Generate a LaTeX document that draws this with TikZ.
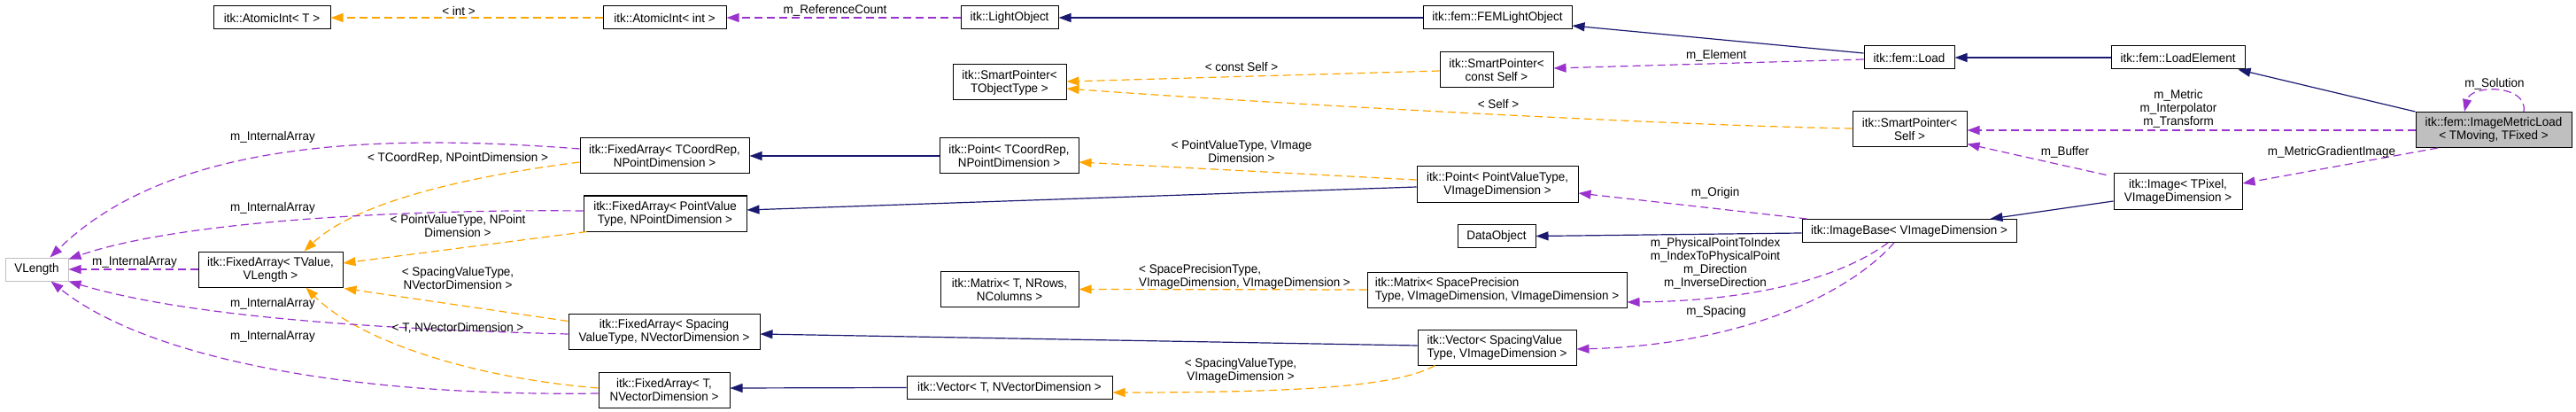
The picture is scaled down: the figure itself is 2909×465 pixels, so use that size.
\documentclass[tikz,border=0pt]{standalone}
\usepackage{fontspec}
\setmainfont[FakeStretch=0.96]{Liberation Sans}
\usetikzlibrary{arrows.meta,calc}
\definecolor{inhblue}{HTML}{191970}
\definecolor{usepurple}{HTML}{9A32CD}
\definecolor{tmplorange}{HTML}{FFA500}
\definecolor{boxgray}{HTML}{BFBFBF}
\begin{document}
\begin{tikzpicture}[x=1pt,y=-1pt,
  font=\fontsize{14}{15}\selectfont,
  box/.style={draw=black, line width=1pt, fill=white, inner sep=0pt, align=center},
  graybox/.style={draw=boxgray, line width=1pt, fill=white, inner sep=0pt, align=center},
  hibox/.style={draw=black, line width=1pt, fill=boxgray, inner sep=0pt, align=center},
  tip/.style={-{Triangle[length=14pt,width=10pt]}},
  inh/.style={draw=inhblue, line width=1.2pt, tip},
  usedge/.style={draw=usepurple, line width=1.2pt, dash pattern=on 9pt off 5pt, tip},
  tpl/.style={draw=tmplorange, line width=1.2pt, dash pattern=on 9pt off 5pt, tip},
  lbl/.style={inner sep=0pt, align=center}]
\useasboundingbox (0,0) rectangle (2909,465);

% ---------- nodes ----------
\node[box, minimum width=132pt, minimum height=26pt] (atT) at (307,20) {itk::AtomicInt< T >};
\node[box, minimum width=139pt, minimum height=26pt] (atI) at (750.5,20) {itk::AtomicInt< int >};
\node[box, minimum width=110pt, minimum height=26pt] (lo) at (1140,20) {itk::LightObject};
\node[box, minimum width=168pt, minimum height=26pt] (feml) at (1691,20) {itk::fem::FEMLightObject};
\node[box, minimum width=102pt, minimum height=26pt] (load) at (2156,65) {itk::fem::Load};
\node[box, minimum width=151pt, minimum height=26pt] (le) at (2459.5,65) {itk::fem::LoadElement};
\node[box, minimum width=128pt, minimum height=40pt] (spT) at (1140,93) {itk::SmartPointer<\\TObjectType >};
\node[box, minimum width=128pt, minimum height=40pt] (spC) at (1690,79) {itk::SmartPointer<\\const Self >};
\node[box, minimum width=129pt, minimum height=40pt] (spS) at (2156.5,146) {itk::SmartPointer<\\Self >};
\node[hibox, minimum width=176pt, minimum height=40pt] (iml) at (2816,146.5) {itk::fem::ImageMetricLoad\\< TMoving, TFixed >};
\node[box, minimum width=191pt, minimum height=40pt] (faTC) at (750.5,176) {itk::FixedArray< TCoordRep,\\NPointDimension >};
\node[box, minimum width=157pt, minimum height=40pt] (ptTC) at (1139.5,176) {itk::Point< TCoordRep,\\NPointDimension >};
\node[box, minimum width=182pt, minimum height=40pt] (ptPV) at (1691,208) {itk::Point< PointValueType,\\VImageDimension >};
\node[box, minimum width=145pt, minimum height=40pt] (img) at (2459.5,216) {itk::Image< TPixel,\\VImageDimension >};
\node[box, minimum width=184pt, minimum height=40pt] (faPV) at (751,241) {itk::FixedArray< PointValue\\Type, NPointDimension >};
\node[graybox, minimum width=71pt, minimum height=26pt] (vl) at (41.5,304) {VLength};
\node[box, minimum width=163pt, minimum height=40pt] (faTV) at (305.5,304) {itk::FixedArray< TValue,\\VLength >};
\node[box, minimum width=88pt, minimum height=26pt] (dobj) at (1690,266.5) {DataObject};
\node[box, minimum width=242pt, minimum height=26pt] (ib) at (2156,260.5) {itk::ImageBase< VImageDimension >};
\node[box, minimum width=156pt, minimum height=40pt] (mxT) at (1140,326.5) {itk::Matrix< T, NRows,\\NColumns >};
\node[box, align=left, minimum width=293pt, minimum height=40pt] (mxS) at (1690.5,327) {itk::Matrix< SpacePrecision\\Type, VImageDimension, VImageDimension >};
\node[box, minimum width=216pt, minimum height=40pt] (faSV) at (750,374.5) {itk::FixedArray< Spacing\\ValueType, NVectorDimension >};
\node[box, align=left, minimum width=179pt, minimum height=40pt] (vcS) at (1690.5,392) {itk::Vector< SpacingValue\\Type, VImageDimension >};
\node[box, minimum width=148pt, minimum height=40pt] (faT) at (750,440) {itk::FixedArray< T,\\NVectorDimension >};
\node[box, minimum width=232pt, minimum height=26pt] (vcT) at (1140,437.5) {itk::Vector< T, NVectorDimension >};

% ---------- edges, top part ----------
\draw[tpl] (atI.west) -- (atT.east);
\draw[usedge] (lo.west) -- (atI.east);
\draw[inh] (feml.west) -- (lo.east);
\draw[inh] ($(load.west)+(0,-5)$) -- ($(feml.east)+(0,9)$);
\draw[inh] (le.west) -- (load.east);
\draw[inh] (iml.north west) -- ($(le.south east)+(-8,0)$);
\draw[usedge] ($(load.west)+(0,2)$) -- ($(spC.east)+(0,-2)$);
\draw[tpl] ($(spC.west)+(0,1)$) -- ($(spT.east)+(0,-1)$);
\draw[tpl] ($(spS.west)+(0,-1)$) .. controls (1900,142) and (1450,118) .. ($(spT.east)+(0,7)$);
\draw[usedge] ($(iml.west)+(0,0.5)$) -- ($(spS.east)+(0,1)$);
\draw[usedge] ($(iml.north)+(34,0)$) .. controls (2855,95) and (2790,95) .. ($(iml.north)+(-33,0)$);
\draw[usedge] ($(iml.south)+(-63,0)$) -- ($(img.east)+(0,-9)$);
\draw[usedge] ($(img.north west)+(-8,2)$) -- ($(spS.south east)+(0,-4)$);
\draw[inh] ($(img.west)+(0,11)$) -- ($(ib.north east)+(-30,0)$);
\draw[usedge] ($(ib.north west)+(6,0)$) -- ($(ptPV.east)+(0,10)$);
\draw[inh] ($(ib.west)+(0,2.5)$) -- (dobj.east);
\draw[usedge] ($(ib.south)+(-24,0)$) .. controls (2070,320) and (1960,340) .. ($(mxS.east)+(0,14)$);
\draw[usedge] ($(ib.south)+(-17,0)$) .. controls (2080,340) and (1950,390) .. ($(vcS.east)+(0,2)$);
\draw[tpl] ($(ptPV.west)+(0,-5)$) -- ($(ptTC.east)+(0,7)$);
\draw[inh] ($(ptPV.west)+(0,3)$) -- ($(faPV.east)+(0,-4)$);
\draw[inh] (ptTC.west) -- (faTC.east);
\draw[tpl] (mxS.west) -- (mxT.east);
\draw[inh] ($(vcS.west)+(0,-2)$) -- ($(faSV.east)+(0,2.5)$);
\draw[tpl] ($(vcS.south west)+(20,0)$) .. controls (1580,435) and (1480,443) .. ($(vcT.east)+(0,5.5)$);
\draw[inh] (vcT.west) -- ($(faT.east)+(0,-2)$);

% ---------- edges, left part ----------
\draw[tpl] ($(faTC.west)+(0,7)$) .. controls (520,200) and (400,230) .. ($(faTV.north)+(38,0)$);
\draw[tpl] ($(faPV.south west)+(4,0)$) -- ($(faTV.east)+(0,-7)$);
\draw[tpl] ($(faSV.west)+(0,-12)$) -- ($(faTV.south east)+(1,1)$);
\draw[tpl] ($(faT.west)+(0,-2)$) .. controls (520,425) and (400,380) .. ($(faTV.south)+(40,0)$);
\draw[usedge] ($(faTC.west)+(0,-8)$) .. controls (420,150) and (190,160) .. ($(vl.north)+(15,0)$);
\draw[usedge] ($(faPV.west)+(0,-3)$) .. controls (450,236) and (200,250) .. ($(vl.north east)+(0,2)$);
\draw[usedge] (faTV.west) -- (vl.east);
\draw[usedge] ($(faSV.west)+(0,2.5)$) .. controls (450,372) and (220,360) .. ($(vl.south east)+(0,0)$);
\draw[usedge] ($(faT.west)+(0,4)$) .. controls (380,448) and (160,400) .. ($(vl.south)+(16,0)$);

% ---------- labels ----------
\node[lbl] (lint) at (518,12) {< int >};
\node[lbl] (lref) at (943,12) {m\_ReferenceCount};
\node[lbl] (lelem) at (1938,63) {m\_Element};
\node[lbl] (lcs) at (1402,75) {< const Self >};
\node[lbl] (lself) at (1692,117) {< Self >};
\node[lbl] (lmet) at (2460,123) {m\_Metric\\m\_Interpolator\\m\_Transform};
\node[lbl] (lsol) at (2817,95) {m\_Solution};
\node[lbl] (lbuf) at (2332,172) {m\_Buffer};
\node[lbl] (lmgi) at (2633,172) {m\_MetricGradientImage};
\node[lbl] (lorig) at (1937,218) {m\_Origin};
\node[lbl] (lmat) at (1937,297.5) {m\_PhysicalPointToIndex\\m\_IndexToPhysicalPoint\\m\_Direction\\m\_InverseDirection};
\node[lbl] (lsp) at (1938,352) {m\_Spacing};
\node[lbl] (lpvi) at (1402,171) {< PointValueType, VImage\\Dimension >};
\node[lbl, align=left, anchor=west] (lspt) at (1286,312) {< SpacePrecisionType,\\VImageDimension, VImageDimension >};
\node[lbl] (lsvt) at (1401,418.5) {< SpacingValueType,\\VImageDimension >};
\node[lbl] (ltc) at (517,179) {< TCoordRep, NPointDimension >};
\node[lbl] (lpvn) at (517,254.5) {< PointValueType, NPoint\\Dimension >};
\node[lbl] (lsvn) at (517,314) {< SpacingValueType,\\NVectorDimension >};
\node[lbl] (ltn) at (517,370) {< T, NVectorDimension >};
\node[lbl] (lia1) at (308,155) {m\_InternalArray};
\node[lbl] (lia2) at (308,235) {m\_InternalArray};
\node[lbl] (lia3) at (152,296) {m\_InternalArray};
\node[lbl] (lia4) at (308,343) {m\_InternalArray};
\node[lbl] (lia5) at (308,380) {m\_InternalArray};
\end{tikzpicture}
\end{document}
